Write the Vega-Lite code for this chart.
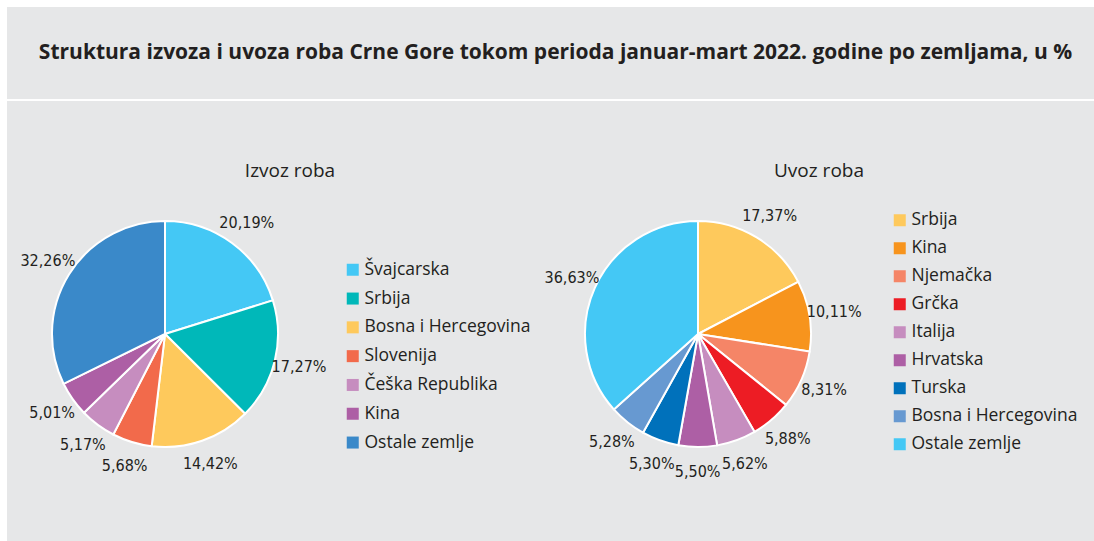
{
  "$schema": "https://vega.github.io/schema/vega-lite/v6.json",
  "background": "#e6e7e8",
  "padding": 0,
  "config": {"view": {"stroke": null}, "concat": {"spacing": 0}},
  "datasets": {
    "izvoz": [
      {"zemlja": "Švajcarska", "udio": 20.19, "r": 1, "oznaka": "20,19%"},
      {"zemlja": "Srbija", "udio": 17.27, "r": 2, "oznaka": "17,27%"},
      {"zemlja": "Bosna i Hercegovina", "udio": 14.42, "r": 3, "oznaka": "14,42%"},
      {"zemlja": "Slovenija", "udio": 5.68, "r": 4, "oznaka": "5,68%"},
      {"zemlja": "Češka Republika", "udio": 5.17, "r": 5, "oznaka": "5,17%"},
      {"zemlja": "Kina", "udio": 5.01, "r": 6, "oznaka": "5,01%"},
      {"zemlja": "Ostale zemlje", "udio": 32.26, "r": 7, "oznaka": "32,26%"}
    ],
    "uvoz": [
      {"zemlja": "Srbija", "udio": 17.37, "r": 1, "oznaka": "17,37%"},
      {"zemlja": "Kina", "udio": 10.11, "r": 2, "oznaka": "10,11%"},
      {"zemlja": "Njemačka", "udio": 8.31, "r": 3, "oznaka": "8,31%"},
      {"zemlja": "Grčka", "udio": 5.88, "r": 4, "oznaka": "5,88%"},
      {"zemlja": "Italija", "udio": 5.62, "r": 5, "oznaka": "5,62%"},
      {"zemlja": "Hrvatska", "udio": 5.50, "r": 6, "oznaka": "5,50%"},
      {"zemlja": "Turska", "udio": 5.30, "r": 7, "oznaka": "5,30%"},
      {"zemlja": "Bosna i Hercegovina", "udio": 5.28, "r": 8, "oznaka": "5,28%"},
      {"zemlja": "Ostale zemlje", "udio": 36.63, "r": 9, "oznaka": "36,63%"}
    ]
  },
  "hconcat": [
    {
      "width": 7, "height": 541,
      "view": {"fill": "white", "stroke": null},
      "data": {"values": []},
      "mark": "rect",
      "encoding": {}
    },
    {
      "bounds": "flush",
      "vconcat": [
        {
          "width": 1087, "height": 7,
          "view": {"fill": "white", "stroke": null},
          "data": {"values": []},
          "mark": "rect",
          "encoding": {}
        },
        {
          "width": 1087, "height": 92,
          "data": {"values": [{"t": "Struktura izvoza i uvoza roba Crne Gore tokom perioda januar-mart 2022. godine po zemljama, u %"}]},
          "mark": {"type": "text", "font": "Open Sans", "fontWeight": "bold", "fontSize": 21, "color": "#231f20", "dx": 5},
          "encoding": {"text": {"field": "t"}}
        },
        {
          "width": 1087, "height": 2,
          "view": {"fill": "white", "stroke": null},
          "data": {"values": []},
          "mark": "rect",
          "encoding": {}
        },
        {
          "width": 1087, "height": 103,
          "data": {"values": []},
          "mark": "rect",
          "encoding": {}
        },
        {
          "bounds": "flush",
          "spacing": 225,
          "resolve": {"scale": {"color": "independent", "theta": "independent"}, "legend": {"color": "independent"}},
          "hconcat": [
            {
              "width": 316, "height": 260,
              "data": {"name": "izvoz"},
              "title": {"text": "Izvoz roba", "dx": 125, "offset": 8, "baseline": "alphabetic", "fontSize": 19, "fontWeight": "normal", "font": "Open Sans", "color": "#231f20"},
              "encoding": {
                "theta": {"field": "udio", "type": "quantitative", "stack": true},
                "order": {"field": "r", "type": "quantitative"}
              },
              "layer": [
                {
                  "mark": {"type": "arc", "outerRadius": 113, "stroke": "white", "strokeWidth": 2},
                  "encoding": {
                    "color": {
                      "field": "zemlja", "type": "nominal",
                      "scale": {
                        "domain": ["Švajcarska", "Srbija", "Bosna i Hercegovina", "Slovenija", "Češka Republika", "Kina", "Ostale zemlje"],
                        "range": ["#44c8f5", "#00b8b9", "#fec95c", "#f26a4b", "#c68dbf", "#ad5fa5", "#3a89c9"]
                      },
                      "legend": {"orient": "none", "legendX": 337, "legendY": 57, "title": null, "symbolType": "square", "symbolSize": 144, "symbolStrokeWidth": 0, "labelFontSize": 17.5, "labelFont": "Open Sans", "labelColor": "#231f20", "labelLimit": 400, "rowPadding": 9.8, "labelOffset": 3, "padding": 0}
                    }
                  }
                },
                {
                  "mark": {"type": "text", "radius": 138, "font": "DejaVu Sans Condensed, Roboto", "fontSize": 16, "color": "#231f20"},
                  "encoding": {
                    "detail": {"field": "zemlja", "type": "nominal"},
                    "text": {"field": "oznaka", "type": "nominal"}
                  }
                }
              ]
            },
            {
              "width": 300, "height": 260,
              "data": {"name": "uvoz"},
              "title": {"text": "Uvoz roba", "dx": 121, "offset": 8, "baseline": "alphabetic", "fontSize": 19, "fontWeight": "normal", "font": "Open Sans", "color": "#231f20"},
              "encoding": {
                "theta": {"field": "udio", "type": "quantitative", "stack": true},
                "order": {"field": "r", "type": "quantitative"}
              },
              "layer": [
                {
                  "mark": {"type": "arc", "outerRadius": 113, "stroke": "white", "strokeWidth": 2},
                  "encoding": {
                    "color": {
                      "field": "zemlja", "type": "nominal",
                      "scale": {
                        "domain": ["Srbija", "Kina", "Njemačka", "Grčka", "Italija", "Hrvatska", "Turska", "Bosna i Hercegovina", "Ostale zemlje"],
                        "range": ["#fec95c", "#f7941d", "#f58567", "#ed1c24", "#c68dbf", "#ad5fa5", "#0071bb", "#6799d1", "#44c8f5"]
                      },
                      "legend": {"orient": "none", "legendX": 343, "legendY": 7.5, "title": null, "symbolType": "square", "symbolSize": 144, "symbolStrokeWidth": 0, "labelFontSize": 17.5, "labelFont": "Open Sans", "labelColor": "#231f20", "labelLimit": 400, "rowPadding": 9, "labelOffset": 3, "padding": 0}
                    }
                  }
                },
                {
                  "mark": {"type": "text", "radius": 138, "font": "DejaVu Sans Condensed, Roboto", "fontSize": 16, "color": "#231f20"},
                  "encoding": {
                    "detail": {"field": "zemlja", "type": "nominal"},
                    "text": {"field": "oznaka", "type": "nominal"}
                  }
                }
              ]
            }
          ]
        }
      ]
    }
  ]
}
